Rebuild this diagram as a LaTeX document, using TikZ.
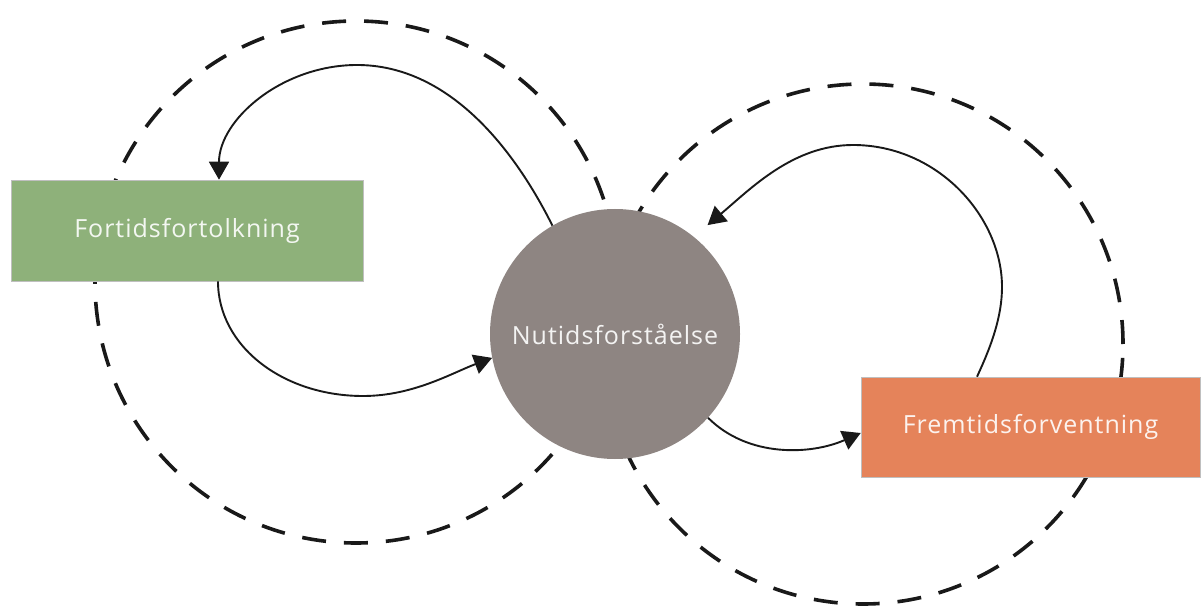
\documentclass[tikz,border=0pt]{standalone}
\usepackage{fontspec}
\setmainfont{Open Sans}[LetterSpace=4]
\usetikzlibrary{arrows.meta}
\definecolor{boxgreen}{RGB}{142,177,122}
\definecolor{boxorange}{RGB}{229,131,90}
\definecolor{circgray}{RGB}{142,133,130}
\begin{document}
\begin{tikzpicture}[x=1pt,y=1pt,
  ring/.style={line width=3.6pt, dash pattern=on 24pt off 18pt, black!90},
  flow/.style={line width=1.9pt, black!90, -{Triangle[length=18pt,width=20pt]}},
  lbl/.style={text=white, text opacity=0.9, font=\fontsize{25}{28}\selectfont},
  stage/.style={rectangle, inner sep=0pt, draw=black!25, line width=0.6pt, lbl}
]
\useasboundingbox (0,0) rectangle (1202,606);
% dashed rings
\draw[ring] (356,324) circle (261);
\draw[ring] (863,262) circle (260);
% nodes
\node[stage, fill=boxgreen, minimum width=352pt, minimum height=101pt] (G) at (187,375.5) {Fortidsfortolkning};
\node[stage, fill=boxorange, minimum width=339pt, minimum height=100pt] (O) at (1030.5,179) {Fremtidsforventning};
\node[circle, fill=circgray, minimum size=250pt, inner sep=0pt, lbl] (C) at (615,272) {Nutidsforståelse};
% helper coordinates
\coordinate (p1) at (357,541);
\coordinate (p2) at (363,210);
\coordinate (p4a) at (1002,319);
\coordinate (p4b) at (853,461);
% connectors
\draw[flow] (C.120) .. controls +(-40,80) and +(90,0) .. (p1) .. controls +(-75,0) and +(0,60) .. ([xshift=32pt]G.north);
\draw[flow] ([xshift=31pt]G.south) .. controls +(0,-65) and +(-80,0) .. (p2) .. controls +(50,0) and +(-40,-15) .. (C.191);
\draw[flow] (C.-42) .. controls +(40,-40) and +(-50,-22) .. ([yshift=-6pt]O.west);
\draw[flow, shorten >=18pt] ([xshift=-53.5pt]O.north) .. controls +(14,30) and +(0,-30) .. (p4a) .. controls +(0,70) and +(85,0) .. (p4b) .. controls +(-60,0) and +(57,48) .. (C.51);
\end{tikzpicture}
\end{document}
